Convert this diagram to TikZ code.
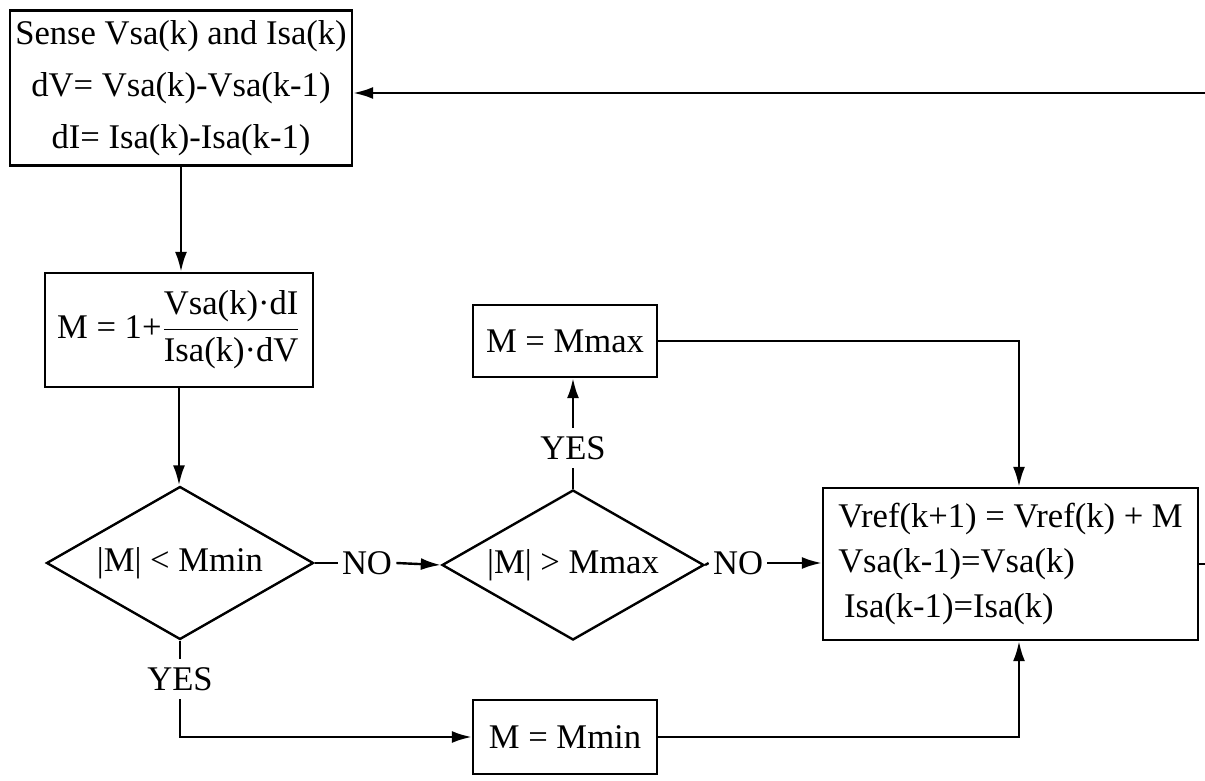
\documentclass[tikz,border=0pt]{standalone}
\usepackage{amsmath}
\usepackage{fontspec}
\setmainfont{Liberation Serif}
\usetikzlibrary{shapes.geometric,arrows.meta}
\pgfdeclarelayer{bg}
\pgfsetlayers{bg,main}
\begin{document}
\begin{tikzpicture}[x=0.5pt,y=-0.5pt,
  every node/.style={font=\fontsize{17.3}{26}\selectfont, inner sep=0pt},
  box/.style={draw, line width=1.2pt, align=center},
  dia/.style={draw, diamond, aspect=1.75, line width=1.2pt},
  lbl/.style={fill=white, inner sep=4pt},
  conn/.style={line width=1.2pt},
  arr/.style={line width=1.2pt, -{Latex[length=10pt,width=6pt]}}]
\useasboundingbox (0,0) rectangle (1205,781);
\node[box, minimum width=171pt, minimum height=77.5pt] (sense) at (181,88)
  {Sense Vsa(k) and Isa(k)\\ dV= Vsa(k)-Vsa(k-1)\\ dI= Isa(k)-Isa(k-1)};
\node[box, minimum width=134pt, minimum height=57pt] (calc) at (179,330)
  {M = 1+$\dfrac{\text{Vsa(k)·dI}}{\text{Isa(k)·dV}}$};
\node[dia, minimum width=133.5pt, minimum height=76.5pt] (d1) at (180,563) {|M| < Mmin};
\node[dia, minimum width=131pt, minimum height=75pt] (d2) at (573,565) {|M| > Mmax};
\node[box, minimum width=92pt, minimum height=36pt] (mmax) at (565,341) {M = Mmax};
\node[box, minimum width=92pt, minimum height=37pt] (mmin) at (565,737) {M = Mmin};
\node[box, minimum width=187.5pt, minimum height=76pt, align=left,
  font=\fontsize{17.3}{22.5}\selectfont] (vref) at (1010.5,564)
  {Vref(k+1) = Vref(k) + M\\ Vsa(k-1)=Vsa(k)\\ \,Isa(k-1)=Isa(k)};
\node[lbl, inner xsep=2pt] (no1) at (367,563) {NO};
\node[lbl, inner xsep=2pt] (no2) at (738,563) {NO};
\node[lbl] (yes1) at (180,679) {YES};
\node[lbl] (yes2) at (573,448) {YES};
\coordinate (fb) at (1205,93);
\coordinate (stub) at (1205,564);
\begin{pgfonlayer}{bg}
\draw[arr] (fb) -- (fb -| sense.east);
\draw[arr] (sense.south) -- (sense.south |- calc.north);
\draw[arr] (calc.south) -- (calc.south |- d1.north);
\draw[conn] (d1.east) -- (no1.west);
\draw[arr] (no1.east) -- (d2.west);
\draw[conn] (d2.north) -- (yes2.south);
\draw[arr] (yes2.north) -- (yes2.north |- mmax.south);
\draw[conn] (d2.east) -- (no2.west);
\draw[arr] (no2.east) -- (no2.east -| vref.west);
\draw[arr] (mmax.east) -| ([xshift=4.25pt]vref.north);
\draw[conn] (d1.south) -- (yes1.north);
\draw[arr] (yes1.south) |- (mmin.west);
\draw[arr] (mmin.east) -| ([xshift=4.25pt]vref.south);
\draw[conn] (vref.east) -- (stub);
\end{pgfonlayer}
\end{tikzpicture}
\end{document}
